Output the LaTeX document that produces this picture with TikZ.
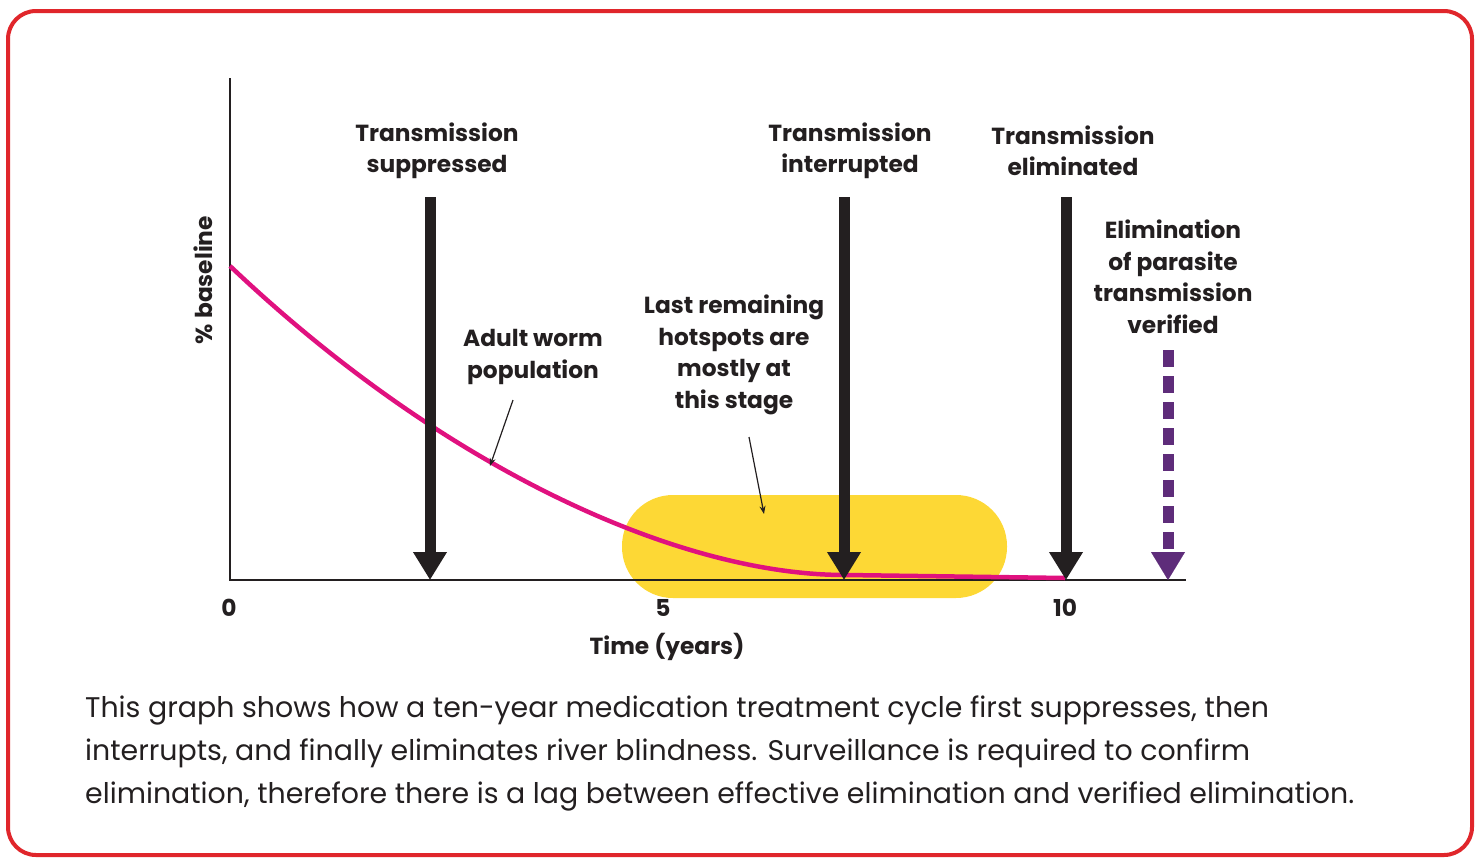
\documentclass[tikz,border=0pt]{standalone}
\usepackage{fontspec}
\setmainfont{Poppins}
\usetikzlibrary{arrows.meta}
\definecolor{frame}{HTML}{E0262B}
\definecolor{curve}{HTML}{E0117F}
\definecolor{yel}{HTML}{FDD835}
\definecolor{purp}{HTML}{5E2C7A}
\definecolor{ink}{HTML}{231F20}
\begin{document}
\begin{tikzpicture}[x=1pt,y=-1pt,
  lbl/.style={font=\fontsize{23.3}{31.5}\selectfont\bfseries,align=center,text=ink,inner sep=0},
  bigarrow/.style={line width=11pt,ink,-{Triangle[width=32pt,length=28pt]}},
  thin/.style={line width=1.2pt,ink,-{Stealth[length=8pt]}}]
\useasboundingbox (0,0) rectangle (1480,862);
\draw[frame,line width=4pt,rounded corners=28pt] (8,11) rectangle (1472,855);
% capsule
\fill[yel,rounded corners=51pt] (622,495) rectangle (1007,598);
% axes
\draw[ink,line width=2.5pt] (230,78) -- (230,580) -- (1186,580);
% curve
\draw[curve,line width=4.5pt] (230,266) .. controls (445,470) and (680,575) .. (845,575) -- (1065,578);
% big arrows
\coordinate (s1) at (430,197); \coordinate (e1) at (430,580);
\coordinate (s2) at (844,197); \coordinate (e2) at (844,580);
\coordinate (s3) at (1066,197); \coordinate (e3) at (1066,580);
\coordinate (s4) at (1168,350); \coordinate (e4) at (1168,580);
\draw[bigarrow] (s1) -- (e1);
\draw[bigarrow] (s2) -- (e2);
\draw[bigarrow] (s3) -- (e3);
\draw[purp,line width=11pt,dash pattern=on 17pt off 9pt] (s4) -- (1168,552);
\draw[purp,line width=0.1pt,-{Triangle[width=34pt,length=28pt]}] (1168,552) -- (e4);
% labels
\node[lbl] (t1) at (437,151) {Transmission\\suppressed};
\node[lbl] (t2) at (850,151) {Transmission\\interrupted};
\node[lbl] (t3) at (1073,151) {Transmission\\eliminated};
\node[lbl] (t4) at (1173,277) {Elimination\\of parasite\\transmission\\verified};
\node[lbl] (aw) at (533,357) {Adult worm\\population};
\node[lbl] (hs) at (734,355) {Last remaining\\hotspots are\\mostly at\\this stage};
\coordinate (a1) at (490,466); \coordinate (a2) at (764,514);
\draw[thin] (513,400) -- (a1);
\draw[thin] (749,437) -- (a2);
\node[lbl] (x0) at (229,608) {0};
\node[lbl] (x5) at (663,608) {5};
\node[lbl] (x10) at (1065,608) {10};
\node[lbl] (xt) at (667,647) {Time (years)};
\node[lbl,rotate=90] (yl) at (203,280) {\% baseline};
\node[anchor=north west,align=left,inner sep=0,text=ink,font=\fontsize{28.4}{43}\selectfont] (cap) at (85,696)
{This graph shows how a ten-year medication treatment cycle first suppresses, then\\
interrupts, and finally eliminates river blindness. Surveillance is required to confirm\\
elimination, therefore there is a lag between effective elimination and verified elimination.};
\end{tikzpicture}
\end{document}
